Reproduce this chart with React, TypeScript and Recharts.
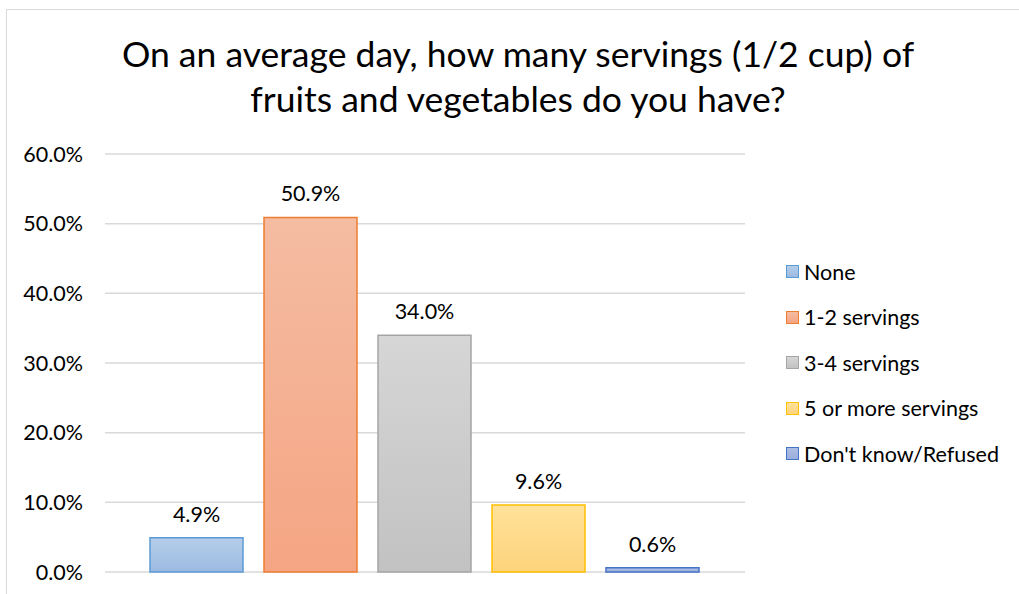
import React from 'react';
import {
  BarChart,
  Bar,
  XAxis,
  YAxis,
  CartesianGrid,
  LabelList,
} from "recharts";

const seriesNames: string[] = ["None", "1-2 servings", "3-4 servings", "5 or more servings", "Don't know/Refused"];
const seriesValues: number[] = [4.9, 50.9, 34.0, 9.6, 0.6];
const yTicks: number[] = [0, 10, 20, 30, 40, 50, 60];

const strokes: string[] = ["#5b9bd5", "#ed7d31", "#a5a5a5", "#ffc000", "#4472c4"];
const fillTop: string[] = ["#b5cdea", "#f4bca2", "#d6d6d6", "#ffe29a", "#aebde3"];
const fillBottom: string[] = ["#9cbbe2", "#f5a583", "#c2c2c2", "#fed37c", "#9aafdd"];

const FONT = "Lato, 'Noto Sans', sans-serif";

const row: Record<string, string | number> = { name: "" };
seriesNames.forEach((n, i) => { row["s" + i] = seriesValues[i]; });
const data = [row];

const fmt = (v: number) => v.toFixed(1) + "%";

const LegendBox: React.FC = () => (
  <div style={{ position: "absolute", left: 786, top: 249, fontFamily: FONT, fontSize: 21.5, color: "#000" }}>
    {seriesNames.map((n, i) => (
      <div key={n} style={{ display: "flex", alignItems: "center", height: 45.5 }}>
        <span style={{
          display: "inline-block", width: 11, height: 11, marginRight: 5,
          border: `1px solid ${strokes[i]}`,
          background: `linear-gradient(${fillTop[i]}, ${fillBottom[i]})`,
        }} />
        <span>{n}</span>
      </div>
    ))}
  </div>
);

const App: React.FC = () => {
  return <div style={{ position: "fixed", left: 0, top: 0, width: 1019, height: 594, overflow: "hidden", background: "#fff" }}>
    <div style={{ position: "absolute", left: 6, top: 9, width: 1040, height: 620, border: "1px solid #d9d9d9" }} />
    <div style={{ position: "absolute", left: 0, top: 31, width: 1036, textAlign: "center", fontFamily: FONT, fontSize: 35.5, lineHeight: "45px", color: "#000" }}>
      On an average day, how many servings (1/2 cup) of<br />fruits and vegetables do you have?
    </div>
    <div style={{ position: "absolute", left: 0, top: 0 }}>
      <BarChart width={1019} height={594} data={data}
        margin={{ top: 154, right: 274, bottom: 22, left: 0 }}
        barCategoryGap={45} barGap={21}>
        <defs>
          {seriesNames.map((n, i) => (
            <linearGradient key={n} id={"g" + i} x1="0" y1="0" x2="0" y2="1">
              <stop offset="0%" stopColor={fillTop[i]} />
              <stop offset="100%" stopColor={fillBottom[i]} />
            </linearGradient>
          ))}
        </defs>
        <CartesianGrid vertical={false} stroke="#d9d9d9" strokeWidth={1.5} />
        <XAxis dataKey="name" tick={false} tickLine={false} axisLine={{ stroke: "#d9d9d9", strokeWidth: 1.5 }} height={0} />
        <YAxis width={105} domain={[0, 60]} ticks={yTicks} tickFormatter={fmt}
          axisLine={false} tickLine={false} tickSize={0} tickMargin={22}
          tick={{ fontFamily: FONT, fontSize: 21.5, fill: "#000" }} />
        {seriesNames.map((n, i) => (
          <Bar key={n} dataKey={"s" + i} name={n} fill={`url(#g${i})`} stroke={strokes[i]} strokeWidth={1.5}
            isAnimationActive={false}>
            <LabelList dataKey={"s" + i} position="top" offset={16} formatter={(v: any) => fmt(Number(v))}
              style={{ fontFamily: FONT, fontSize: 21.5, fill: "#000" }} />
          </Bar>
        ))}
      </BarChart>
    </div>
    <LegendBox />
  </div>;
}

export default App;
